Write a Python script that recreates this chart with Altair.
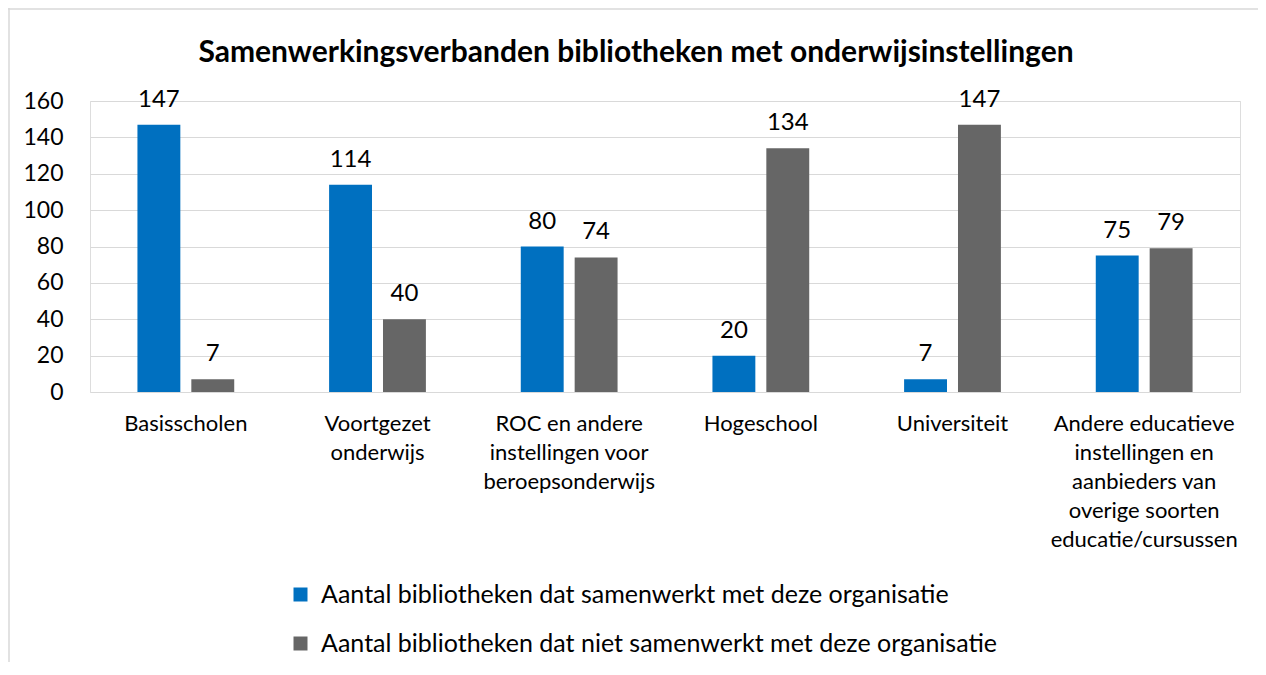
import altair as alt
import pandas as pd

categories = [
    "Basisscholen",
    "Voortgezet\nonderwijs",
    "ROC en andere\ninstellingen voor\nberoepsonderwijs",
    "Hogeschool",
    "Universiteit",
    "Andere educatieve\ninstellingen en\naanbieders van\noverige soorten\neducatie/cursussen",
]
series = [
    "Aantal bibliotheken dat samenwerkt met deze organisatie",
    "Aantal bibliotheken dat niet samenwerkt met deze organisatie",
]
samenwerkt = [147, 114, 80, 20, 7, 75]
niet_samenwerkt = [7, 40, 74, 134, 147, 79]
colors = ["#0070C0", "#666666"]
y_ticks = [0, 20, 40, 60, 80, 100, 120, 140, 160]
title = "Samenwerkingsverbanden bibliotheken met onderwijsinstellingen"

rows = []
for c, a, b in zip(categories, samenwerkt, niet_samenwerkt):
    rows.append({"cat": c, "serie": series[0], "val": a})
    rows.append({"cat": c, "serie": series[1], "val": b})
df = pd.DataFrame(rows)

FONT = "Lato"

x = alt.X(
    "cat:N",
    sort=categories,
    title=None,
    scale=alt.Scale(paddingInner=0.495, paddingOuter=0.2475),
    axis=alt.Axis(
        labelExpr="split(datum.value, '\\n')",
        labelAngle=0,
        labelFontSize=22,
        labelLineHeight=29,
        labelPadding=21,
        labelColor="#000000",
        labelFont=FONT,
        labelLimit=400,
        domain=False,
        ticks=False,
        labelBaseline="top",
    ),
)
xo = alt.XOffset("serie:N", sort=series, scale=alt.Scale(paddingInner=0.204))
y = alt.Y(
    "val:Q",
    title=None,
    scale=alt.Scale(domain=[0, 160]),
    axis=alt.Axis(
        values=y_ticks,
        labelOverlap=False,
        labelFontSize=23,
        labelPadding=27,
        labelColor="#000000",
        labelFont=FONT,
        domain=False,
        ticks=False,
        grid=True,
        gridColor="#D9D9D9",
        gridWidth=1,
    ),
)
color = alt.Color(
    "serie:N",
    sort=series,
    scale=alt.Scale(domain=series, range=colors),
    legend=alt.Legend(
        title=None,
        orient="none",
        legendX=198,
        legendY=481,
        direction="vertical",
        symbolType="square",
        symbolSize=196,
        symbolStrokeWidth=0,
        labelFontSize=25,
        labelFont=FONT,
        labelColor="#000000",
        labelLimit=1000,
        labelOffset=8,
        rowPadding=23,
    ),
)

base = alt.Chart(df).encode(x=x, xOffset=xo, y=y)
bars = base.mark_bar().encode(color=color)
labels = base.mark_text(
    baseline="alphabetic", dy=-18, fontSize=24, font=FONT, color="#000000"
).encode(text="val:Q")

frame_df = pd.DataFrame({"k": [0]})
frame_left = alt.Chart(frame_df).mark_rule(color="#D9D9D9", strokeWidth=1.5).encode(
    x=alt.value(-81), y=alt.value(-93), y2=alt.value(600)
)
frame_top = alt.Chart(frame_df).mark_rule(color="#D9D9D9", strokeWidth=1.5).encode(
    x=alt.value(-82), x2=alt.value(1200), y=alt.value(-92)
)

chart = (
    alt.layer(frame_left, frame_top, bars, labels)
    .properties(
        width=1150,
        height=291,
        autosize=alt.AutoSizeParams(type="none"),
        padding={"left": 82, "top": 93, "right": 18, "bottom": 270},
        title=alt.TitleParams(
            text=title,
            font=FONT,
            fontSize=30,
            fontWeight="bold",
            color="#000000",
            anchor="middle",
            frame="group",
            baseline="alphabetic",
            offset=0,
            dy=85,
            dx=-29,
        ),
    )
    .configure_view(stroke=None)
    .configure(background="#FFFFFF")
)

chart.save("out.html", embed_options={"renderer": "svg", "actions": False})
